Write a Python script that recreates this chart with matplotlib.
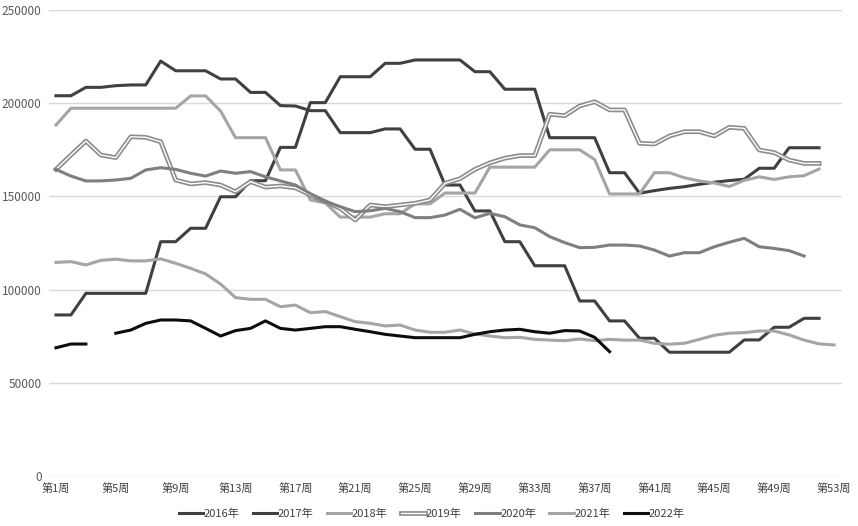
import numpy as np
import matplotlib
matplotlib.use("Agg")
import matplotlib.pyplot as plt
from matplotlib.legend_handler import HandlerTuple

plt.rcParams['font.family'] = ['Noto Sans CJK SC', 'DejaVu Sans']

nan = np.nan
y2016 = [204000, 204000, 208500, 208500, 209400, 209800, 209800, 222600, 217400, 217400,
         217400, 213000, 213000, 205800, 205800, 198700, 198500, 196000, 196000, 184200,
         184200, 184200, 186200, 186200, 175300, 175300, 156100, 156100, 142200, 142200,
         125700, 125700, 112800, 112800, 112800, 93900, 93900, 83200, 83200, 73900,
         73900, 66400, 66400, 66400, 66400, 66400, 73000, 73000, 79800, 79800,
         84600, 84600]
y2017 = [86400, 86400, 98000, 98000, 98000, 98000, 98000, 125700, 125700, 132900,
         132900, 149800, 149800, 158400, 158400, 176300, 176300, 200300, 200300, 214200,
         214200, 214200, 221400, 221400, 223200, 223200, 223200, 223200, 216900, 216900,
         207500, 207500, 207500, 181500, 181500, 181500, 181500, 162700, 162700, 151700,
         153100, 154300, 155200, 156500, 157600, 158500, 159200, 165100, 165100, 176100,
         176100, 176100]
y2018 = [188300, 197300, 197300, 197300, 197300, 197300, 197300, 197300, 197300, 203900,
         203900, 195800, 181500, 181500, 181500, 164200, 164200, 148100, 146500, 138900,
         138900, 138900, 140700, 140700, 146000, 146000, 151800, 151800, 151800, 165700,
         165700, 165700, 165700, 175000, 175000, 175000, 169800, 151300, 151300, 151300,
         162700, 162700, 160000, 158300, 157200, 155300, 158600, 160500, 159100, 160500,
         161100, 164700]
y2019 = [164500, 172200, 179700, 172200, 170800, 182000, 181700, 179300, 158800, 156700,
         157400, 156100, 152500, 157900, 155000, 155600, 154600, 150800, 147200, 143600,
         137300, 145400, 144500, 145400, 146300, 148100, 157000, 159500, 164500, 168000,
         170500, 171900, 171900, 194100, 193300, 198500, 200800, 196400, 196400, 178500,
         178100, 182400, 184700, 184700, 182400, 187100, 186500, 174900, 173500, 169500,
         167700, 167700]
y2020 = [164500, 160900, 158300, 158300, 158800, 159700, 164200, 165400, 164500, 162400,
         160900, 163600, 162400, 163300, 160500, 158300, 156100, 151500, 147200, 144500,
         141800, 142300, 143600, 141800, 138600, 138600, 140000, 143100, 138500, 140900,
         139100, 134700, 133200, 128400, 125200, 122500, 122700, 123900, 123900, 123400,
         121200, 118000, 119800, 119800, 123000, 125400, 127500, 123000, 122100, 120900,
         118000]
y2021 = [114600, 115000, 113200, 115700, 116300, 115400, 115400, 116500, 114100, 111400,
         108400, 103000, 95700, 94800, 94800, 90800, 91700, 87600, 88200, 85500,
         82800, 81900, 80500, 81000, 78300, 77100, 77100, 78300, 76200, 75100,
         74200, 74400, 73300, 72900, 72600, 73500, 72600, 73300, 72900, 72900,
         71200, 70700, 71200, 73300, 75500, 76600, 76900, 77800, 77800, 75700,
         72900, 70900, 70300]
y2022 = [68800, 70800, 70800, nan, 76600, 78300, 81900, 83700, 83700, 83200,
         79200, 75100, 78000, 79200, 83200, 79200, 78300, 79200, 80100, 80100,
         78700, 77400, 76000, 75100, 74200, 74200, 74200, 74200, 76000, 77400,
         78300, 78700, 77400, 76600, 78000, 77800, 74400, 66700]

years = ['2016年', '2017年', '2018年', '2019年', '2020年', '2021年', '2022年']
tick_weeks = list(range(1, 54, 4))
tick_labels = ['第%d周' % w for w in tick_weeks]
yticks = [0, 50000, 100000, 150000, 200000, 250000]

fig = plt.figure(figsize=(8.58, 5.26), dpi=100)
ax = fig.add_axes([48.5 / 858, 1 - 476 / 526, (841.5 - 48.5) / 858, 466 / 526])

lw = 2.2
handles = []
series = [(y2016, '#404040'), (y2017, '#404040'), (y2018, '#A5A5A5')]
for i, (ys, c) in enumerate(series):
    x = np.arange(1, len(ys) + 1)
    h, = ax.plot(x, ys, color=c, lw=lw, zorder=3 + i)
    handles.append(h)

# 2019 double line
x = np.arange(1, len(y2019) + 1)
h1, = ax.plot(x, y2019, color='#8C8C8C', lw=3.4, zorder=6)
h2, = ax.plot(x, y2019, color='white', lw=1.0, zorder=6.1)
handles.append((h1, h2))

for i, (ys, c) in enumerate([(y2020, '#7F7F7F'), (y2021, '#A5A5A5'), (y2022, '#0D0D0D')]):
    x = np.arange(1, len(ys) + 1)
    h, = ax.plot(x, ys, color=c, lw=lw, zorder=7 + i)
    handles.append(h)

ax.set_xlim(0.5, 53.5)
ax.set_ylim(0, 250000)
ax.set_yticks(yticks)
ax.set_yticklabels([str(v) for v in yticks], fontsize=8.5, color='#595959')
ax.set_xticks(tick_weeks)
ax.set_xticklabels(tick_labels, fontsize=8, color='#404040')
ax.tick_params(length=0, pad=5)
ax.grid(axis='y', color='#D9D9D9', lw=1.0)
ax.set_axisbelow(True)
for s in ax.spines.values():
    s.set_visible(False)

fig.legend(handles, years, loc='center', bbox_to_anchor=(0.503, 0.024), ncol=7,
           frameon=False, fontsize=8, handlelength=2.2, handletextpad=0.05,
           columnspacing=1.2, labelcolor='#404040',
           handler_map={tuple: HandlerTuple(ndivide=1)})

fig.savefig('out.png', dpi=100, facecolor='white')
